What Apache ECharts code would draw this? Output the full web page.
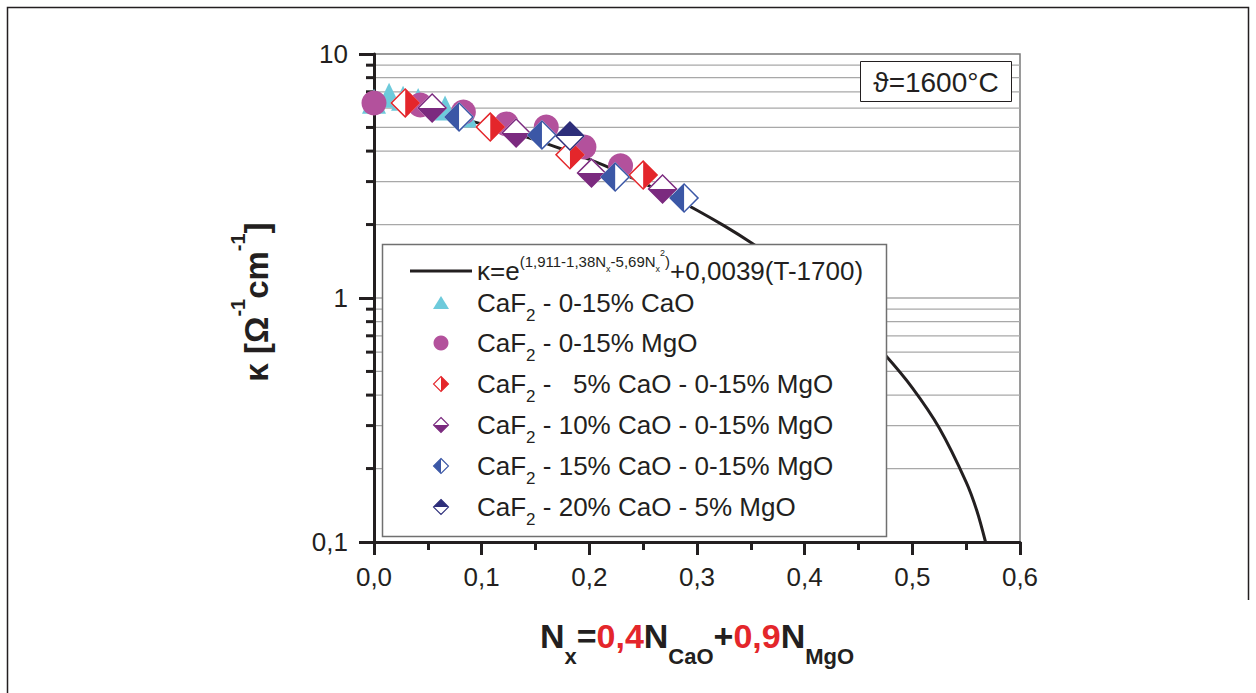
<!DOCTYPE html>
<html>
<head>
<meta charset="utf-8">
<script src="https://cdn.jsdelivr.net/npm/echarts@6/dist/echarts.min.js"></script>
<style>
  html, body { margin: 0; padding: 0; background: #ffffff; }
  #chart { width: 1256px; height: 693px; }
</style>
</head>
<body>
<div id="chart"></div>
<script>
// ---- data ----------------------------------------------------------------
// x tick labels (N_x) and y decade labels (kappa)
const xTickValues = [0, 0.1, 0.2, 0.3, 0.4, 0.5, 0.6];
const yDecades = [0.1, 1, 10];
const yMinorValues = [0.2, 0.3, 0.4, 0.5, 0.6, 0.7, 0.8, 0.9, 1, 2, 3, 4, 5, 6, 7, 8, 9];

// fitted conductivity curve at 1600 °C
const curveN = [0, 0.025, 0.05, 0.075, 0.1, 0.125, 0.15, 0.175, 0.2, 0.225, 0.25, 0.275, 0.3,
                0.325, 0.35, 0.375, 0.4, 0.425, 0.45, 0.475, 0.5, 0.525, 0.55, 0.56, 0.568];
const curveK = [6.37, 6.12, 5.83, 5.51, 5.17, 4.81, 4.45, 4.07, 3.70, 3.33, 2.96, 2.62, 2.29,
                1.98, 1.69, 1.42, 1.18, 0.956, 0.758, 0.582, 0.428, 0.293, 0.176, 0.134, 0.100];

// CaF2 - 0-15% CaO
const caoN = [0.000, 0.014, 0.027, 0.041, 0.066, 0.085];
const caoK = [6.40, 6.78, 6.58, 6.45, 6.01, 5.62];
// CaF2 - 0-15% MgO
const mgoN = [0.000, 0.043, 0.083, 0.123, 0.160, 0.195, 0.229];
const mgoK = [6.30, 6.18, 5.78, 5.17, 5.02, 4.16, 3.48];
// CaF2 - 5% CaO - 0-15% MgO
const cao5N = [0.029, 0.108, 0.182, 0.250];
const cao5K = [6.30, 5.02, 3.86, 3.19];
// CaF2 - 10% CaO - 0-15% MgO
const cao10N = [0.054, 0.132, 0.202, 0.268];
const cao10K = [6.01, 4.75, 3.25, 2.80];
// CaF2 - 15% CaO - 0-15% MgO
const cao15N = [0.079, 0.156, 0.224, 0.288];
const cao15K = [5.52, 4.66, 3.13, 2.57];
// CaF2 - 20% CaO - 5% MgO
const cao20N = [0.182];
const cao20K = [4.61];

// ---- styling --------------------------------------------------------------
const FONT = '"Liberation Sans", Arial, Helvetica, sans-serif';
const INK = '#231f20';
const C_CYAN = '#6dcadb';
const C_MAG = '#b3519c';
const C_RED = '#e4262b';
const C_PUR = '#7b2a7f';
const C_BLUE = '#3b57a6';
const C_NAVY = '#2d2e7a';

// half-filled diamonds: outer diamond with the white half cut out (leaves a thin rim)
const OUTER = 'M50,0L100,50L50,100L0,50Z';
const HALF_RIGHT = OUTER + ' M50,7L7,50L50,93Z';   // right half filled
const HALF_BOTTOM = OUTER + ' M50,7L7,50L93,50Z';  // bottom half filled
const HALF_LEFT = OUTER + ' M50,7L50,93L93,50Z';   // left half filled
const HALF_TOP = OUTER + ' M7,50L50,93L93,50Z';    // top half filled

// filled half of a legend diamond (unit coordinates, centre at 0,0)
const HALF_POLY = {
  right: [[0, -1], [1, 0], [0, 1]],
  bottom: [[-1, 0], [1, 0], [0, 1]],
  left: [[0, -1], [-1, 0], [0, 1]],
  top: [[-1, 0], [0, -1], [1, 0]]
};

const zip = (xs, ys) => xs.map((x, i) => [x, ys[i]]);
const fmtComma = v => String(v).replace('.', ',');

const DIA = 30;

function diamondPair(name, xs, ys, path, color) {
  return [
    { type: 'scatter', name: name + '-bg', data: zip(xs, ys), symbol: 'diamond', symbolSize: DIA,
      itemStyle: { color: '#ffffff', opacity: 1 }, silent: true, z: 3 },
    { type: 'scatter', name: name, data: zip(xs, ys), symbol: 'path://' + path, symbolSize: DIA,
      itemStyle: { color: color, opacity: 1 }, silent: true, z: 3 }
  ];
}

// ---- legend (drawn as graphic elements) --------------------------------------
const LEG_X_ICON = 441;
const LEG_X_TEXT = 477;
const legendRows = [
  { y: 303, label: ' - 0-15% CaO', icon: 'triangle', color: C_CYAN },
  { y: 343, label: ' - 0-15% MgO', icon: 'circle', color: C_MAG },
  { y: 384, label: ' -\u00a0\u00a0\u00a05% CaO - 0-15% MgO', icon: 'right', color: C_RED },
  { y: 425, label: ' - 10% CaO - 0-15% MgO', icon: 'bottom', color: C_PUR },
  { y: 466, label: ' - 15% CaO - 0-15% MgO', icon: 'left', color: C_BLUE },
  { y: 507, label: ' - 20% CaO - 5% MgO', icon: 'top', color: C_NAVY }
];

// rich-text pieces: main line 50 px high, centre at 25; raised/lowered pieces placed with top padding
const legendRich = {
  m: { fontSize: 26, fontFamily: FONT, fill: INK, lineHeight: 50, verticalAlign: 'middle' },
  s: { fontSize: 17, fontFamily: FONT, fill: INK, verticalAlign: 'top', padding: [29, 0, 0, 0] },
  p: { fontSize: 15, fontFamily: FONT, fill: INK, verticalAlign: 'top', padding: [7.5, 0, 0, 0] },
  q: { fontSize: 9, fontFamily: FONT, fill: INK, verticalAlign: 'top', padding: [18.5, 0, 0, 0] },
  t: { fontSize: 9, fontFamily: FONT, fill: INK, verticalAlign: 'top', padding: [2.5, 0, 0, 0] }
};

const legendElements = [
  { type: 'rect', shape: { x: 382.5, y: 244.5, width: 504, height: 292 },
    style: { fill: '#ffffff', stroke: '#707070', lineWidth: 1.5 }, z: 100 },
  { type: 'line', shape: { x1: 410, y1: 271, x2: 472, y2: 271 },
    style: { stroke: INK, lineWidth: 3 }, z: 101 },
  { type: 'text', x: 477, y: 271, z: 101,
    style: { text: '{m|κ=e}{p|(1,911-1,38N}{q|x}{p|-5,69N}{q|x}{t|2}{p|)}{m|+0,0039(T-1700)}',
      rich: legendRich, align: 'left', verticalAlign: 'middle' } }
];
legendRows.forEach(r => {
  const cx = LEG_X_ICON, cy = r.y;
  if (r.icon === 'triangle') {
    legendElements.push({ type: 'polygon', z: 101,
      shape: { points: [[cx, cy - 7], [cx + 8, cy + 6], [cx - 8, cy + 6]] },
      style: { fill: r.color } });
  } else if (r.icon === 'circle') {
    legendElements.push({ type: 'circle', z: 101, shape: { cx: cx, cy: cy, r: 7.5 },
      style: { fill: r.color } });
  } else {
    const h = 7.5;
    legendElements.push({ type: 'polygon', z: 101,
      shape: { points: HALF_POLY[r.icon].map(p => [cx + p[0] * h, cy + p[1] * h]) },
      style: { fill: r.color } });
    legendElements.push({ type: 'polygon', z: 102,
      shape: { points: [[cx, cy - h], [cx + h, cy], [cx, cy + h], [cx - h, cy]] },
      style: { fill: null, stroke: r.color, lineWidth: 1.1 } });
  }
  legendElements.push({ type: 'text', x: LEG_X_TEXT, y: r.y, z: 101,
    style: { text: '{m|CaF}{s|2}{m|' + r.label + '}', rich: legendRich, align: 'left', verticalAlign: 'middle' } });
});

// ---- chart ----------------------------------------------------------------
const chart = echarts.init(document.getElementById('chart'), null, { renderer: 'svg' });

const option = {
  backgroundColor: '#ffffff',
  animation: false,
  grid: { left: 374, top: 54, width: 646, height: 488, show: true,
          borderColor: '#7a7a7a', borderWidth: 1.5, backgroundColor: 'transparent' },
  xAxis: {
    type: 'value', min: 0, max: 0.6, interval: 0.1,
    axisLine: { show: true, lineStyle: { color: INK, width: 3 } },
    axisTick: { show: true, inside: false, length: 13, lineStyle: { color: INK, width: 3 } },
    minorTick: { show: true, splitNumber: 2, length: 8, lineStyle: { color: INK, width: 3 } },
    axisLabel: { fontSize: 26, fontFamily: FONT, color: INK, margin: 22,
                 formatter: v => fmtComma(xTickValues.reduce((a, b) => Math.abs(b - v) < Math.abs(a - v) ? b : a).toFixed(1)) },
    splitLine: { show: false }
  },
  yAxis: {
    type: 'log', logBase: 10, min: yDecades[0], max: yDecades[2],
    axisLine: { show: true, lineStyle: { color: INK, width: 3 } },
    axisTick: { show: true, inside: false, length: 15, lineStyle: { color: INK, width: 3 } },
    axisLabel: { fontSize: 26, fontFamily: FONT, color: INK, margin: 26,
                 formatter: v => fmtComma(yDecades.reduce((a, b) => Math.abs(b - v) < Math.abs(a - v) ? b : a)) },
    splitLine: { show: false }
  },
  series: [
    // horizontal grid at every 1..9 step of each decade, with short minor ticks
    { type: 'custom', coordinateSystem: 'cartesian2d', clip: false, silent: true, z: 1,
      data: yMinorValues.map(v => [0, v]), encode: { x: 0, y: 1 },
      renderItem: (params, api) => {
        const v = api.value(1);
        const a = api.coord([0, v]);
        const b = api.coord([0.6, v]);
        const children = [
          { type: 'line', shape: { x1: a[0] + 2, y1: a[1], x2: b[0], y2: b[1] },
            style: { stroke: '#a8a8a8', lineWidth: 1.3 } }
        ];
        if (v !== 1) {
          children.push({ type: 'line', shape: { x1: a[0] - 8, y1: a[1], x2: a[0], y2: a[1] },
            style: { stroke: INK, lineWidth: 3 } });
        }
        return { type: 'group', children: children };
      } },
    { type: 'line', name: 'fit', data: zip(curveN, curveK), showSymbol: false, symbol: 'none',
      smooth: 0.3, lineStyle: { color: INK, width: 3 }, silent: true, z: 2 },
    { type: 'scatter', name: 'CaF2 - 0-15% CaO', data: zip(caoN, caoK), symbol: 'triangle',
      symbolSize: [24, 25], itemStyle: { color: C_CYAN, opacity: 1 }, silent: true, z: 3 },
    { type: 'scatter', name: 'CaF2 - 0-15% MgO', data: zip(mgoN, mgoK), symbol: 'circle',
      symbolSize: 25, itemStyle: { color: C_MAG, opacity: 1 }, silent: true, z: 3 },
    ...diamondPair('CaF2 - 5% CaO - 0-15% MgO', cao5N, cao5K, HALF_RIGHT, C_RED),
    ...diamondPair('CaF2 - 10% CaO - 0-15% MgO', cao10N, cao10K, HALF_BOTTOM, C_PUR),
    ...diamondPair('CaF2 - 15% CaO - 0-15% MgO', cao15N, cao15K, HALF_LEFT, C_BLUE),
    ...diamondPair('CaF2 - 20% CaO - 5% MgO', cao20N, cao20K, HALF_TOP, C_NAVY)
  ],
  graphic: [
    // outer frame
    { type: 'polyline', z: 50, shape: { points: [[7.5, 693], [7.5, 7.5], [1248.5, 7.5], [1248.5, 600]] },
      style: { stroke: INK, lineWidth: 1.5, fill: null } },
    // temperature box
    { type: 'rect', z: 100, shape: { x: 860.5, y: 61.5, width: 151, height: 40 },
      style: { fill: '#ffffff', stroke: INK, lineWidth: 1 } },
    { type: 'text', z: 101, x: 936, y: 82,
      style: { text: 'ϑ=1600°C', fontSize: 28, fontFamily: FONT, fill: INK, align: 'center', verticalAlign: 'middle' } },
    // axis titles
    { type: 'text', z: 101, x: 697, y: 636,
      style: { text: '{m|N}{s|x}{m|=}{r|0,4}{m|N}{s|CaO}{m|+}{r|0,9}{m|N}{s|MgO}',
        align: 'center', verticalAlign: 'middle',
        rich: {
          m: { fontSize: 34, fontWeight: 'bold', fontFamily: FONT, fill: INK, lineHeight: 64, verticalAlign: 'middle' },
          r: { fontSize: 34, fontWeight: 'bold', fontFamily: FONT, fill: C_RED, lineHeight: 64, verticalAlign: 'middle' },
          s: { fontSize: 22, fontWeight: 'bold', fontFamily: FONT, fill: INK, verticalAlign: 'top', padding: [41, 0, 0, 0] }
        } } },
    { type: 'text', z: 101, x: 256, y: 302, rotation: Math.PI / 2,
      style: { text: '{m|κ [Ω}{p|-1}{m|cm}{p|-1}{m|]}',
        align: 'center', verticalAlign: 'middle',
        rich: {
          m: { fontSize: 33, fontWeight: 'bold', fontFamily: FONT, fill: INK, lineHeight: 60, verticalAlign: 'middle' },
          p: { fontSize: 20, fontWeight: 'bold', fontFamily: FONT, fill: INK, verticalAlign: 'top', padding: [2, 0, 0, 0] }
        } } },
    ...legendElements
  ]
};

chart.setOption(option);
</script>
</body>
</html>
